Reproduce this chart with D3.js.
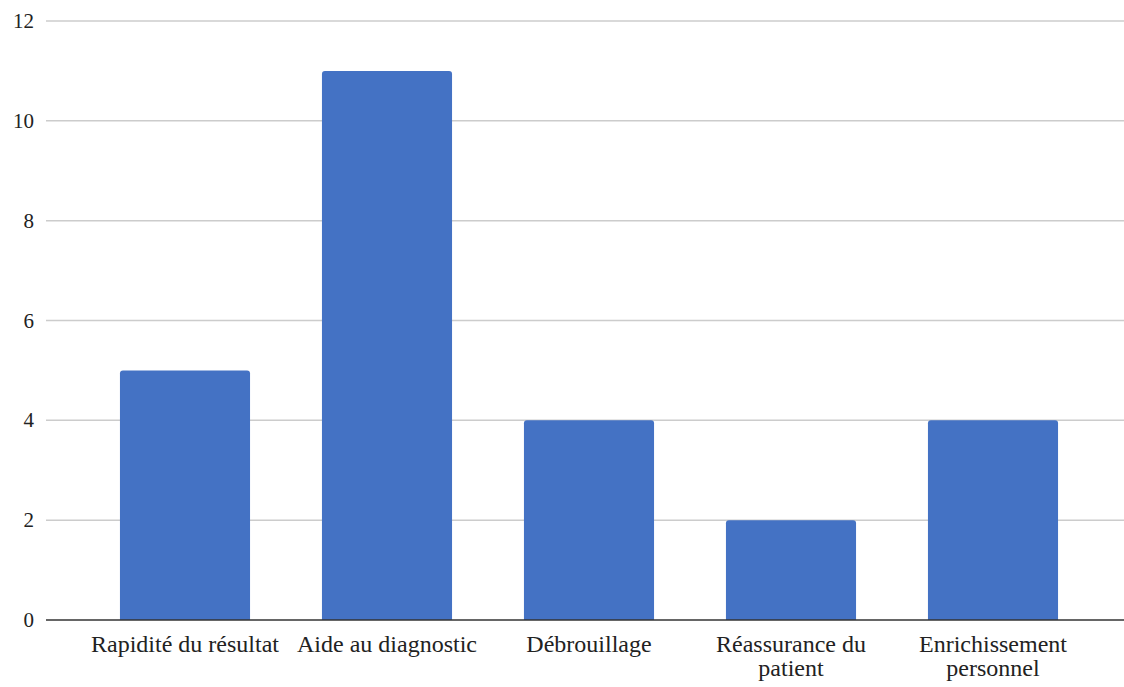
<!DOCTYPE html>
<html>
<head>
<meta charset="utf-8">
<script src="https://cdn.jsdelivr.net/npm/d3@7"></script>
<style>
  html, body { margin: 0; padding: 0; background: #fff; }
  svg { display: block; }
</style>
</head>
<body>
<svg id="chart" width="1124" height="687"></svg>
<script>
const categories = [
  ["Rapidité du résultat"],
  ["Aide au diagnostic"],
  ["Débrouillage"],
  ["Réassurance du", "patient"],
  ["Enrichissement", "personnel"]
];
const values = [5, 11, 4, 2, 4];
const yTicks = [0, 2, 4, 6, 8, 10, 12];

const W = 1124, H = 687;
const FONT = "'Liberation Serif', Tinos, 'Times New Roman', 'DejaVu Serif', serif";
const svg = d3.select("#chart")
  .attr("font-family", FONT);

const keys = categories.map(c => c.join(" "));
const x = d3.scaleBand().domain(keys).range([84, 1094])
  .paddingInner(0.356).paddingOuter(0.178);
const y = d3.scaleLinear().domain([0, 12]).range([620, 21]);

// gridlines
svg.append("g").selectAll("line").data(yTicks.filter(t => t !== 0)).join("line")
  .attr("x1", 46).attr("x2", W)
  .attr("y1", d => y(d)).attr("y2", d => y(d))
  .attr("stroke", "#cccccc").attr("stroke-width", 1.5);

// y tick labels
svg.append("g").selectAll("text").data(yTicks).join("text")
  .attr("x", 34).attr("y", d => y(d)).attr("dy", "0.34em")
  .attr("text-anchor", "end").attr("font-size", 21)
  .attr("font-family", FONT).attr("fill", "#222")
  .text(d => d);

// bars with slightly rounded top corners
const r = 3;
svg.append("g").selectAll("path").data(values).join("path")
  .attr("fill", "#4472c4")
  .attr("d", (v, i) => {
    const x0 = x(keys[i]), x1 = x0 + x.bandwidth();
    const y0 = y(0), y1 = y(v);
    return `M${x0},${y0}V${y1 + r}Q${x0},${y1} ${x0 + r},${y1}H${x1 - r}Q${x1},${y1} ${x1},${y1 + r}V${y0}Z`;
  });

// baseline
svg.append("line").attr("x1", 46).attr("x2", W)
  .attr("y1", y(0)).attr("y2", y(0))
  .attr("stroke", "#333").attr("stroke-width", 1.5);

// category labels
const lab = svg.append("g").selectAll("text").data(categories).join("text")
  .attr("text-anchor", "middle").attr("font-size", 24)
  .attr("font-family", FONT).attr("fill", "#222")
  .attr("x", (c, i) => x(keys[i]) + x.bandwidth() / 2)
  .attr("y", 652);
lab.selectAll("tspan").data(c => c).join("tspan")
  .attr("x", function() { return this.parentNode.getAttribute("x"); })
  .attr("dy", (d, j) => j === 0 ? 0 : 24)
  .text(d => d);
</script>
</body>
</html>
